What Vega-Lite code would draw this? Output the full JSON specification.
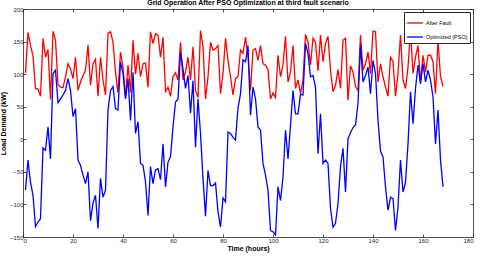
{
  "$schema": "https://vega.github.io/schema/vega-lite/v6.json",
  "width": 450,
  "height": 228,
  "autosize": {"type": "none"},
  "padding": {"left": 23, "top": 9, "right": 7, "bottom": 20},
  "background": "white",
  "config": {
    "font": "Liberation Sans",
    "view": {"stroke": null},
    "axis": {"grid": false, "domainColor": "#262626", "tickColor": "#262626", "labelColor": "#262626", "titleColor": "#000000", "labelFontSize": 6, "titleFontSize": 7, "titleFontWeight": "bold", "tickSize": -3, "labelPadding": 3, "domainWidth": 0.8, "tickWidth": 0.8}
  },
  "title": {"text": "Grid Operation After PSO Optimization at third fault scenario", "fontSize": 7, "fontWeight": "bold", "offset": 0, "anchor": "middle", "color": "#000000"},
  "data": {"values": [
{"h":1,"a":102,"o":-78},{"h":2,"a":164,"o":-32},{"h":3,"a":144,"o":-66},{"h":4,"a":128,"o":-86},{"h":5,"a":78,"o":-134},{"h":6,"a":77,"o":-127},{"h":7,"a":66,"o":-122},{"h":8,"a":155,"o":-13},{"h":9,"a":126,"o":-17},{"h":10,"a":138,"o":19},
{"h":11,"a":61,"o":-30},{"h":12,"a":166,"o":101},{"h":13,"a":152,"o":106},{"h":14,"a":84,"o":56},{"h":15,"a":80,"o":62},{"h":16,"a":79,"o":68},{"h":17,"a":96,"o":75},{"h":18,"a":116,"o":93},{"h":19,"a":108,"o":75},{"h":20,"a":93,"o":35},
{"h":21,"a":126,"o":47},{"h":22,"a":75,"o":-32},{"h":23,"a":88,"o":-40},{"h":24,"a":98,"o":-55},{"h":25,"a":106,"o":-68},{"h":26,"a":145,"o":-50},{"h":27,"a":83,"o":-125},{"h":28,"a":116,"o":-98},{"h":29,"a":123,"o":-86},{"h":30,"a":66,"o":-137},
{"h":31,"a":126,"o":-60},{"h":32,"a":91,"o":-89},{"h":33,"a":68,"o":-78},{"h":34,"a":163,"o":45},{"h":35,"a":165,"o":75},{"h":36,"a":149,"o":81},{"h":37,"a":103,"o":47},{"h":38,"a":71,"o":45},{"h":39,"a":134,"o":119},{"h":40,"a":111,"o":101},
{"h":41,"a":64,"o":62},{"h":42,"a":114,"o":93},{"h":43,"a":72,"o":29},{"h":44,"a":152,"o":103},{"h":45,"a":100,"o":9},{"h":46,"a":132,"o":27},{"h":47,"a":96,"o":-37},{"h":48,"a":116,"o":-40},{"h":49,"a":117,"o":-65},{"h":50,"a":80,"o":-117},
{"h":51,"a":165,"o":-42},{"h":52,"a":147,"o":-68},{"h":53,"a":162,"o":-47},{"h":54,"a":160,"o":-45},{"h":55,"a":126,"o":-62},{"h":56,"a":157,"o":-7},{"h":57,"a":73,"o":-73},{"h":58,"a":80,"o":-35},{"h":59,"a":66,"o":-27},{"h":60,"a":96,"o":19},
{"h":61,"a":102,"o":57},{"h":62,"a":91,"o":62},{"h":63,"a":149,"o":133},{"h":64,"a":91,"o":108},{"h":65,"a":103,"o":78},{"h":66,"a":126,"o":98},{"h":67,"a":91,"o":40},{"h":68,"a":142,"o":90},{"h":69,"a":75,"o":-12},{"h":70,"a":64,"o":62},
{"h":71,"a":167,"o":9},{"h":72,"a":142,"o":-60},{"h":73,"a":62,"o":-118},{"h":74,"a":96,"o":-48},{"h":75,"a":149,"o":-71},{"h":76,"a":137,"o":-71},{"h":77,"a":139,"o":-67},{"h":78,"a":144,"o":-111},{"h":79,"a":70,"o":-135},{"h":80,"a":101,"o":-90},
{"h":81,"a":155,"o":-96},{"h":82,"a":121,"o":11},{"h":83,"a":96,"o":9},{"h":84,"a":68,"o":3},{"h":85,"a":93,"o":-1},{"h":86,"a":96,"o":48},{"h":87,"a":137,"o":70},{"h":88,"a":132,"o":122},{"h":89,"a":157,"o":119},{"h":90,"a":126,"o":144},
{"h":91,"a":75,"o":37},{"h":92,"a":137,"o":80},{"h":93,"a":139,"o":62},{"h":94,"a":121,"o":19},{"h":95,"a":144,"o":14},{"h":96,"a":116,"o":-37},{"h":97,"a":114,"o":-55},{"h":98,"a":107,"o":-78},{"h":99,"a":62,"o":-140},{"h":100,"a":71,"o":-142},
{"h":101,"a":64,"o":-147},{"h":102,"a":129,"o":-73},{"h":103,"a":96,"o":-94},{"h":104,"a":114,"o":-58},{"h":105,"a":158,"o":14},{"h":106,"a":88,"o":-30},{"h":107,"a":103,"o":21},{"h":108,"a":144,"o":75},{"h":109,"a":78,"o":39},{"h":110,"a":91,"o":39},
{"h":111,"a":70,"o":69},{"h":112,"a":91,"o":68},{"h":113,"a":161,"o":147},{"h":114,"a":149,"o":132},{"h":115,"a":114,"o":96},{"h":116,"a":155,"o":98},{"h":117,"a":149,"o":80},{"h":118,"a":105,"o":-22},{"h":119,"a":160,"o":39},{"h":120,"a":119,"o":-37},
{"h":121,"a":147,"o":-32},{"h":122,"a":158,"o":-37},{"h":123,"a":106,"o":-106},{"h":124,"a":73,"o":-135},{"h":125,"a":83,"o":-129},{"h":126,"a":107,"o":-99},{"h":127,"a":78,"o":-42},{"h":128,"a":152,"o":-14},{"h":129,"a":155,"o":-81},{"h":130,"a":60,"o":1},
{"h":131,"a":113,"o":10},{"h":132,"a":103,"o":18},{"h":133,"a":81,"o":22},{"h":134,"a":75,"o":55},{"h":135,"a":160,"o":145},{"h":136,"a":106,"o":88},{"h":137,"a":116,"o":98},{"h":138,"a":134,"o":111},{"h":139,"a":101,"o":70},{"h":140,"a":166,"o":121},
{"h":141,"a":165,"o":101},{"h":142,"a":88,"o":29},{"h":143,"a":116,"o":-18},{"h":144,"a":96,"o":-27},{"h":145,"a":80,"o":-73},{"h":146,"a":66,"o":-109},{"h":147,"a":126,"o":-89},{"h":148,"a":119,"o":-91},{"h":149,"a":66,"o":-140},{"h":150,"a":101,"o":-104},
{"h":151,"a":160,"o":-32},{"h":152,"a":91,"o":-81},{"h":153,"a":78,"o":-66},{"h":154,"a":111,"o":-7},{"h":155,"a":167,"o":73},{"h":156,"a":101,"o":24},{"h":157,"a":126,"o":78},{"h":158,"a":144,"o":114},{"h":159,"a":88,"o":85},{"h":160,"a":129,"o":116},
{"h":161,"a":103,"o":88},{"h":162,"a":129,"o":106},{"h":163,"a":129,"o":91},{"h":164,"a":119,"o":65},{"h":165,"a":70,"o":-7},{"h":166,"a":152,"o":45},{"h":167,"a":96,"o":-32},{"h":168,"a":81,"o":-73}
  ]},
  "transform": [
    {"fold": ["a", "o"], "as": ["k", "v"]},
    {"lookup": "k", "from": {"data": {"values": [{"k": "a", "series": "After Fault"}, {"k": "o", "series": "Optimized (PSO)"}]}, "key": "k", "fields": ["series"]}}
  ],
  "layer": [
    {
      "mark": {"type": "line", "strokeWidth": 1.3, "clip": true},
      "encoding": {
        "x": {"field": "h", "type": "quantitative", "scale": {"domain": [0, 180], "nice": false}, "axis": {"orient": "bottom", "values": [0,20,40,60,80,100,120,140,160,180], "title": "Time (hours)", "titlePadding": 1}},
        "y": {"field": "v", "type": "quantitative", "scale": {"domain": [-150, 200], "nice": false}, "axis": {"orient": "left", "values": [-150,-100,-50,0,50,100,150,200], "title": "Load Demand (kW)", "titlePadding": 3}},
        "color": {"field": "series", "type": "nominal", "scale": {"domain": ["After Fault", "Optimized (PSO)"], "range": ["#ff0000", "#0000ff"]},
          "legend": {"orient": "none", "legendX": 381, "legendY": 3, "title": null, "symbolType": "stroke", "symbolSize": 250, "symbolStrokeWidth": 1.3, "labelFontSize": 5.5, "labelColor": "#000000", "strokeColor": "#262626", "fillColor": "white", "padding": 2, "rowPadding": 1, "labelOffset": 2}}
      }
    },
    {
      "mark": {"type": "point", "opacity": 0},
      "encoding": {
        "x": {"field": "h", "type": "quantitative", "scale": {"domain": [0, 180], "nice": false}, "axis": {"orient": "top", "values": [0,20,40,60,80,100,120,140,160,180], "labels": false, "title": null}},
        "y": {"field": "v", "type": "quantitative", "scale": {"domain": [-150, 200], "nice": false}, "axis": {"orient": "right", "values": [-150,-100,-50,0,50,100,150,200], "labels": false, "title": null}}
      }
    }
  ],
  "resolve": {"axis": {"x": "independent", "y": "independent"}}
}
